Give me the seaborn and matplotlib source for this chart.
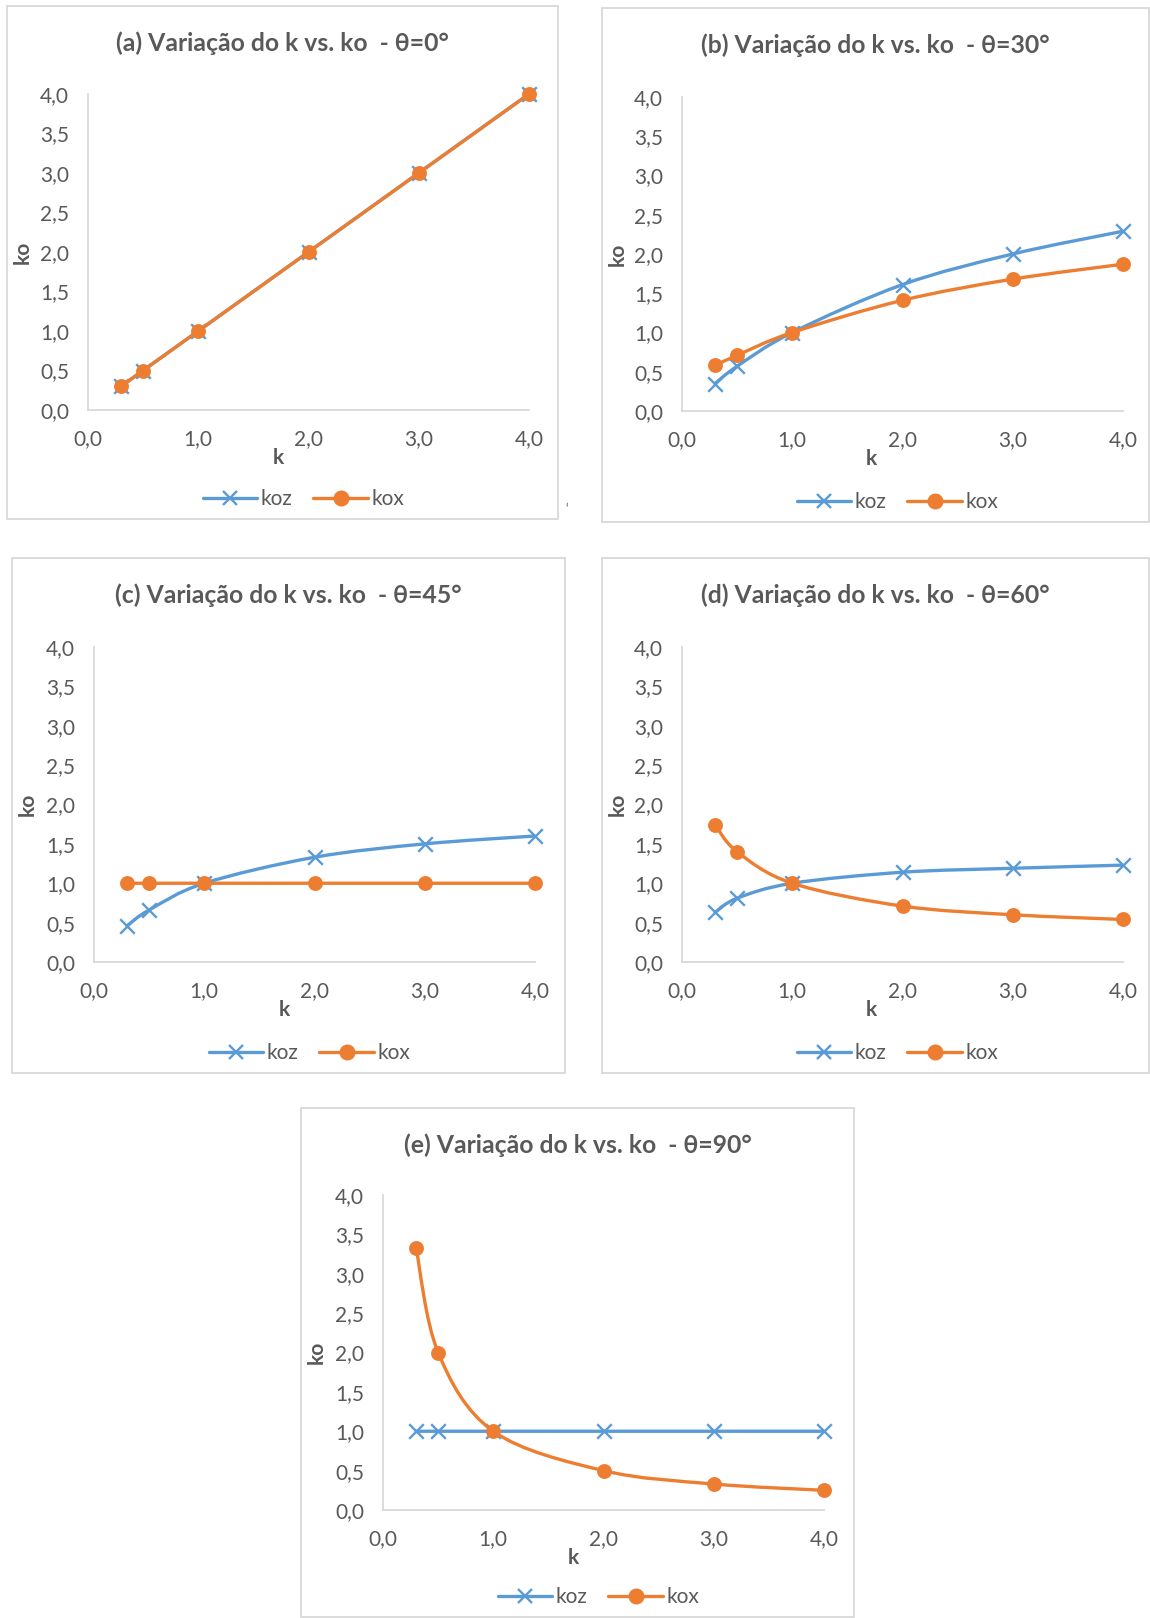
import numpy as np
import matplotlib
matplotlib.use("Agg")
import matplotlib.pyplot as plt
import seaborn as sns
from matplotlib.path import Path
from matplotlib.patches import PathPatch, Rectangle
from matplotlib.lines import Line2D

# data
k_vals = [0.3, 0.5, 1.0, 2.0, 3.0, 4.0]

koz_0 = [0.3, 0.5, 1.0, 2.0, 3.0, 4.0]
kox_0 = [0.3, 0.5, 1.0, 2.0, 3.0, 4.0]

koz_30 = [0.35, 0.57, 1.0, 1.61, 2.0, 2.29]
kox_30 = [0.58, 0.71, 1.0, 1.41, 1.68, 1.87]

koz_45 = [0.46, 0.66, 1.0, 1.33, 1.50, 1.60]
kox_45 = [1.0, 1.0, 1.0, 1.0, 1.0, 1.0]

koz_60 = [0.63, 0.81, 1.0, 1.14, 1.19, 1.23]
kox_60 = [1.74, 1.40, 1.0, 0.71, 0.60, 0.54]

koz_90 = [1.0, 1.0, 1.0, 1.0, 1.0, 1.0]
kox_90 = [3.33, 2.0, 1.0, 0.50, 0.33, 0.25]

titles = ["(a) Variação do k vs. ko  - θ=0°",
          "(b) Variação do k vs. ko  - θ=30°",
          "(c) Variação do k vs. ko  - θ=45°",
          "(d) Variação do k vs. ko  - θ=60°",
          "(e) Variação do k vs. ko  - θ=90°"]
x_ticks = [0, 1, 2, 3, 4]
x_labels = ["0,0", "1,0", "2,0", "3,0", "4,0"]
y_ticks = [0, 0.5, 1, 1.5, 2, 2.5, 3, 3.5, 4]
y_labels = ["0,0", "0,5", "1,0", "1,5", "2,0", "2,5", "3,0", "3,5", "4,0"]

W, H = 1150, 1618
BLUE = "#5B9BD5"
ORANGE = "#ED7D31"
GREY = "#595959"
AXC = "#D9D9D9"

sns.set_style("white")
plt.rcParams["font.family"] = ["Lato", "DejaVu Sans"]

fig = plt.figure(figsize=(W / 100, H / 100), dpi=100)


def fx(p):
    return p / W


def fy(p):
    return 1 - p / H


def smooth_path(x, y):
    # Excel-style bezier smoothing through the points
    pts = np.column_stack([x, y]).astype(float)
    n = len(pts)
    verts = [pts[0]]
    codes = [Path.MOVETO]
    for i in range(n - 1):
        p0 = pts[max(i - 1, 0)]
        p1 = pts[i]
        p2 = pts[i + 1]
        p3 = pts[min(i + 2, n - 1)]
        c1 = p1 + (p2 - p0) / 6
        c2 = p2 - (p3 - p1) / 6
        verts += [c1, c2, p2]
        codes += [Path.CURVE4] * 3
    return Path(verts, codes)


# (box, plot area) in pixels
panels = [
    ((7, 6, 558, 519), (88, 94, 529, 410), koz_0, kox_0),
    ((602, 8, 1149, 522), (682, 97, 1123, 411), koz_30, kox_30),
    ((12, 558, 565, 1073), (94, 647, 535, 962), koz_45, kox_45),
    ((602, 558, 1149, 1073), (682, 647, 1123, 962), koz_60, kox_60),
    ((301, 1108, 854, 1617), (383, 1195, 824, 1510), koz_90, kox_90),
]

for (box, area, koz, kox), title in zip(panels, titles):
    bx0, by0, bx1, by1 = box
    fig.add_artist(Rectangle((fx(bx0), fy(by1)), (bx1 - bx0) / W, (by1 - by0) / H,
                             transform=fig.transFigure, fill=False, ec=AXC, lw=1.3))
    x0, y0, x1, y1 = area
    ax = fig.add_axes([fx(x0), fy(y1), (x1 - x0) / W, (y1 - y0) / H])

    ax.add_patch(PathPatch(smooth_path(k_vals, koz), fill=False, ec=BLUE, lw=2.4,
                           zorder=2, capstyle="round"))
    sns.scatterplot(x=k_vals, y=koz, ax=ax, marker="x", color=BLUE, s=110,
                    linewidth=1.7, zorder=3, clip_on=False)
    ax.add_patch(PathPatch(smooth_path(k_vals, kox), fill=False, ec=ORANGE, lw=2.4,
                           zorder=4, capstyle="round"))
    sns.scatterplot(x=k_vals, y=kox, ax=ax, marker="o", color=ORANGE, s=115,
                    edgecolor=ORANGE, linewidth=0, zorder=5, clip_on=False)

    ax.set_xlim(0, 4)
    ax.set_ylim(0, 4)
    ax.set_xticks(x_ticks)
    ax.set_xticklabels(x_labels)
    ax.set_yticks(y_ticks)
    ax.set_yticklabels(y_labels)
    ax.tick_params(length=0, labelsize=15, labelcolor=GREY, pad=13.5)
    for s in ["top", "right"]:
        ax.spines[s].set_visible(False)
    for s in ["left", "bottom"]:
        ax.spines[s].set_color(AXC)
        ax.spines[s].set_linewidth(1.3)

    # axis titles are centred on the chart box like in Excel
    ax.set_xlabel("k", fontsize=15, fontweight="bold", color=GREY, va="center")
    ax.xaxis.set_label_coords(((bx0 + bx1) / 2 - 4 - x0) / (x1 - x0), -(48 / (y1 - y0)))
    ax.set_ylabel("ko", fontsize=15, fontweight="bold", color=GREY, va="center", ha="center")
    ax.yaxis.set_label_coords(-((x0 - bx0 - 16) / (x1 - x0)), 0.5)

    fig.text(fx((bx0 + bx1) / 2), fy(by0 + 37), title, ha="center", va="center",
             fontsize=17.8, fontweight="bold", color=GREY)

    handles = [Line2D([], [], color=BLUE, lw=2.4, marker="x", ms=10, mew=1.7),
               Line2D([], [], color=ORANGE, lw=2.4, marker="o", ms=10.5)]
    ax.legend(handles, ["koz", "kox"], loc="center", ncol=2, frameon=False,
              bbox_to_anchor=(fx((x0 + x1) / 2 - 5), fy(by1 - 20)),
              bbox_transform=fig.transFigure, fontsize=15, labelcolor=GREY,
              handlelength=2.6, handletextpad=0.2, columnspacing=1.0, numpoints=1)

fig.text(fx(567), fy(508), "‘", fontsize=9, color=GREY, ha="center", va="center")

fig.savefig("out.png", dpi=100)
